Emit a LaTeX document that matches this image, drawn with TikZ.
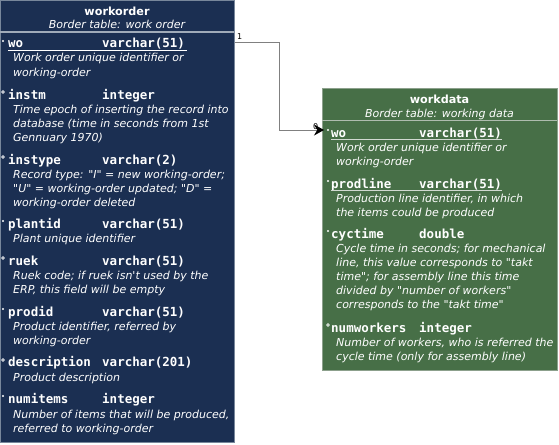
\documentclass[tikz,border=0pt]{standalone}
\usepackage{fontspec}
\setmainfont{DejaVu Sans}[Ligatures=TeXOff]
\newfontfamily\tblmono{DejaVu Sans Mono}
\usetikzlibrary{arrows.meta}
\definecolor{wonavy}{RGB}{27,47,82}
\definecolor{wdgreen}{RGB}{71,111,71}
\definecolor{wnborder}{RGB}{120,135,155}
\definecolor{wdborder}{RGB}{140,160,140}
\definecolor{fkgray}{RGB}{128,128,128}
\begin{document}
\begin{tikzpicture}[x=1pt,y=-1pt,
    tbl/.style={draw, line width=1pt, anchor=north west, inner sep=0pt},
    tbltitle/.style={text=white, font=\fontsize{11.2}{12}\selectfont\bfseries, anchor=base, inner sep=0pt},
    tblsub/.style={text=white, font=\fontsize{11}{12}\selectfont\itshape, anchor=base, inner sep=0pt},
    fname/.style={text=white, font=\fontsize{12.5}{14}\selectfont\tblmono\bfseries, anchor=base west, inner sep=0pt},
    fdesc/.style={text=white, font=\fontsize{11}{14}\selectfont\itshape, align=left, anchor=base west, inner sep=0pt},
    pk/.style={fill=white},
    nopk/.style={draw=white, line width=0.6pt},
    fk/.style={draw=fkgray, line width=0.8pt}]
    \useasboundingbox (0,0) rectangle (559,444);

    % workorder table
    \node[tbl, draw=wnborder, fill=wonavy, minimum width=234pt, minimum height=442pt] (workorder) at (0,0) {};
    \node[tbltitle] (wotitle) at (117,15.5) {workorder};
    \node[tblsub] (wosub) at (117,29) {Border table: work order};
    \draw[wnborder!70!white, line width=1.2pt] (0,32) -- (234,32);

    % (desc nodes sit on the baseline of their last line)
    \fill[pk] (3,41) circle (1.1pt);
    \node[fname] (wo1) at (8,48) {wo};
    \node[fname] (wo1t) at (102,48) {varchar(51)};
    \draw[white, line width=1pt] (8,50.5) -- (186.5,50.5);
    \node[fdesc] (wo1d) at (13,76) {Work order unique identifier or\\working-order};

    \draw[nopk] (3,92) circle (1.4pt);
    \node[fname] (instm) at (8,99.5) {instm};
    \node[fname] (instmt) at (102,99.5) {integer};
    \node[fdesc] (instmd) at (13,141) {Time epoch of inserting the record into\\database (time in seconds from 1st\\Gennuary 1970)};

    \draw[nopk] (3,157) circle (1.4pt);
    \node[fname] (instype) at (8,164) {instype};
    \node[fname] (instypet) at (102,164) {varchar(2)};
    \node[fdesc] (instyped) at (13,206) {Record type: "I" = new working-order;\\"U" = working-order updated; "D" =\\working-order deleted};

    \fill[pk] (3,221) circle (1.1pt);
    \node[fname] (plantid) at (8,228) {plantid};
    \node[fname] (plantidt) at (102,228) {varchar(51)};
    \node[fdesc] (plantidd) at (13,242.5) {Plant unique identifier};

    \draw[nopk] (3,258) circle (1.4pt);
    \node[fname] (ruek) at (8,265) {ruek};
    \node[fname] (ruekt) at (102,265) {varchar(51)};
    \node[fdesc] (ruekd) at (13,293) {Ruek code; if ruek isn't used by the\\ERP, this field will be empty};

    \fill[pk] (3,309) circle (1.1pt);
    \node[fname] (prodid) at (8,316) {prodid};
    \node[fname] (prodidt) at (102,316) {varchar(51)};
    \node[fdesc] (prodidd) at (13,344.5) {Product identifier, referred by\\working-order};

    \draw[nopk] (3,360) circle (1.4pt);
    \node[fname] (descr) at (8,366.5) {description};
    \node[fname] (descrt) at (102,366.5) {varchar(201)};
    \node[fdesc] (descrd) at (13,381.5) {Product description};

    \fill[pk] (3,396) circle (1.1pt);
    \node[fname] (numitems) at (8,403) {numitems};
    \node[fname] (numitemst) at (102,403) {integer};
    \node[fdesc] (numitemsd) at (13,432.5) {Number of items that will be produced,\\referred to working-order};

    % workdata table
    \node[tbl, draw=wdborder, fill=wdgreen, minimum width=235pt, minimum height=282pt] (workdata) at (322,88) {};
    \node[tbltitle] (wdtitle) at (439.5,103.5) {workdata};
    \node[tblsub] (wdsub) at (439.5,117) {Border table: working data};
    \draw[wdborder!70!white, line width=1.2pt] (322,120.5) -- (557,120.5);

    \fill[pk] (328,130) circle (1.1pt);
    \node[fname] (wo2) at (331,137) {wo};
    \node[fname] (wo2t) at (419,137) {varchar(51)};
    \draw[wdborder!40!white, line width=1pt] (331,139.5) -- (502,139.5);
    \node[fdesc] (wo2d) at (336,165) {Work order unique identifier or\\working-order};

    \fill[pk] (328,181) circle (1.1pt);
    \node[fname] (prodline) at (331,188) {prodline};
    \node[fname] (prodlinet) at (419,188) {varchar(51)};
    \draw[wdborder!40!white, line width=1pt] (331,190.5) -- (502,190.5);
    \node[fdesc] (prodlined) at (336,216) {Production line identifier, in which\\the items could be produced};

    \fill[pk] (328,231) circle (1.1pt);
    \node[fname] (cyctime) at (331,238) {cyctime};
    \node[fname] (cyctimet) at (419,238) {double};
    \node[fdesc] (cyctimed) at (336,308) {Cycle time in seconds; for mechanical\\line, this value corresponds to "takt\\time"; for assembly line this time\\divided by "number of workers"\\corresponds to the "takt time"};

    \draw[nopk] (328,325) circle (1.4pt);
    \node[fname] (numworkers) at (331,332) {numworkers};
    \node[fname] (numworkerst) at (419,332) {integer};
    \node[fdesc] (numworkersd) at (336,360.5) {Number of workers, who is referred the\\cycle time (only for assembly line)};

    % reference workorder -> workdata
    \node[font=\fontsize{8}{9}\selectfont, inner sep=0pt, anchor=base west] (card1) at (237,40) {1};
    \node[font=\fontsize{8}{9}\selectfont, inner sep=0pt, anchor=base west] (card0) at (313,129) {0};
    \coordinate (wdin) at (324,130);
    \draw[fk, -{Stealth[black, length=10pt, width=11pt]}] (workorder.east |- 0,42) -- (279,42) |- (wdin);
\end{tikzpicture}
\end{document}
